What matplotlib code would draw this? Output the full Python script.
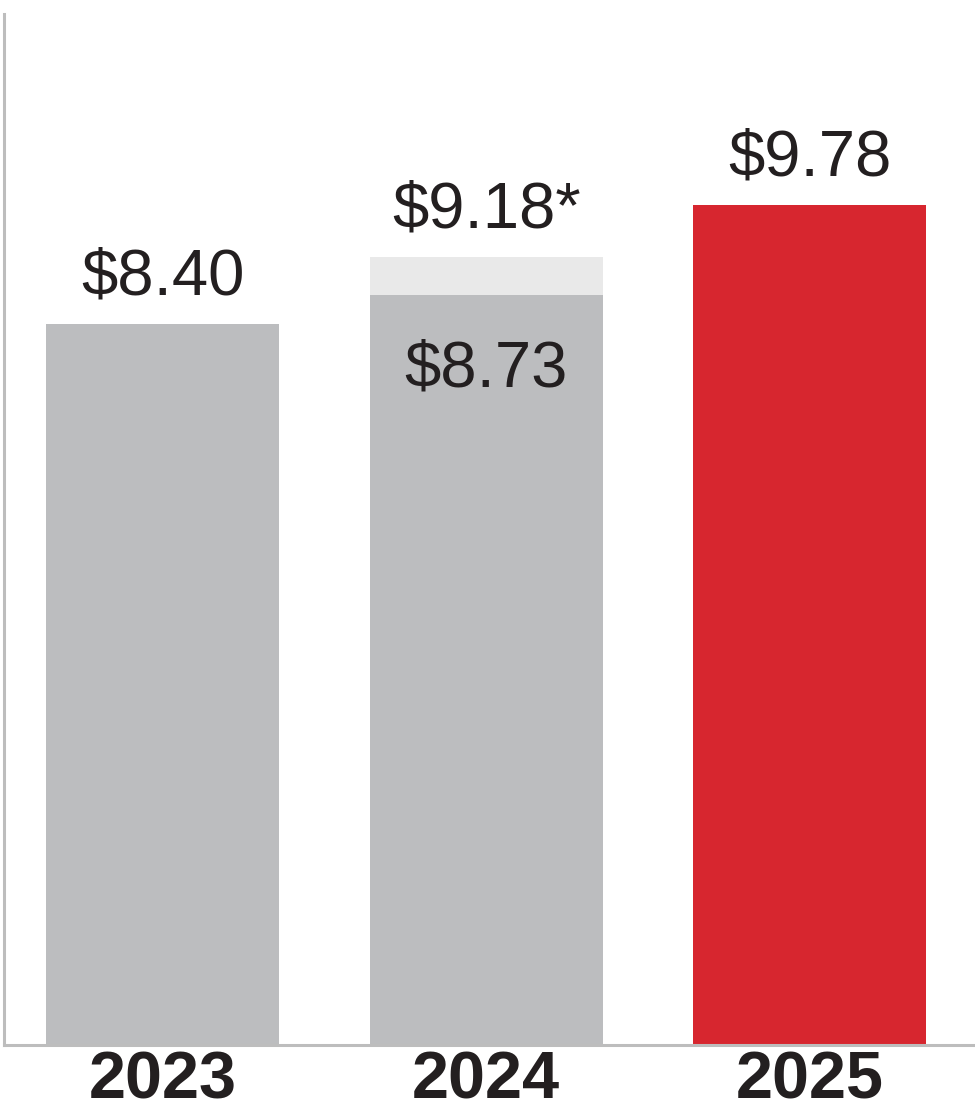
import matplotlib
matplotlib.use('Agg')
import matplotlib.pyplot as plt

# values
years=['2023','2024','2025']
base_vals=[8.40,8.73,9.78]
extra_2024=9.18
colors=['#bcbdbf','#bcbdbf','#d7262f']
top_labels=['$8.40','$9.18*','$9.78']
inner_label='$8.73'

plt.rcParams['font.family']=['Liberation Sans','DejaVu Sans']

f,ax=plt.subplots(figsize=(9.75,11.13),dpi=100)
f.subplots_adjust(left=0.004,right=1.0,top=0.987,bottom=0.061)

x=range(len(years))
# light part of 2024 bar (the adjusted figure) behind the reported one
ax.bar(1,extra_2024,width=0.72,color='#e9e9e9',zorder=1)
ax.bar(x,base_vals,width=0.72,color=colors,zorder=2)

label_tops=[base_vals[0],extra_2024,base_vals[2]]
for i,(v,t) in enumerate(zip(label_tops,top_labels)):
    ax.annotate(t,(i,v),xytext=(0,21),textcoords='offset points',ha='center',va='baseline',
                fontsize=47,color='#231f20')
ax.annotate(inner_label,(1,base_vals[1]),xytext=(0,-66),textcoords='offset points',ha='center',va='baseline',
            fontsize=47,color='#231f20')

ax.set_xlim(-0.49,2.51)
ax.set_ylim(0,12)
ax.set_xticks(list(x))
ax.set_xticklabels(years,fontsize=48,fontweight='bold',color='#231f20')
ax.tick_params(axis='x',length=0,pad=4)
ax.set_yticks([])
for s in ['top','right']:
    ax.spines[s].set_visible(False)
for s in ['left','bottom']:
    ax.spines[s].set_color('#bdbdbd')
    ax.spines[s].set_linewidth(2.2)

f.savefig('out.png',dpi=100)
